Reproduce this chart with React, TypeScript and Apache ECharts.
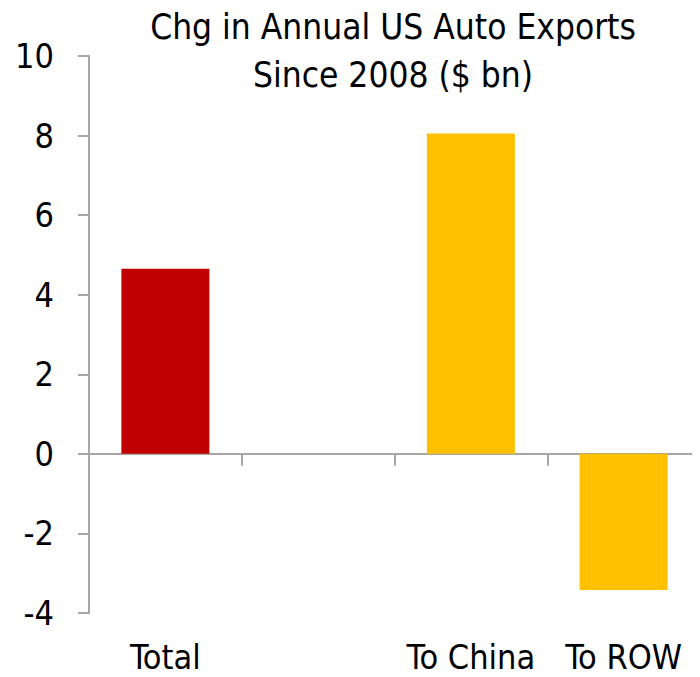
import React, { useEffect, useRef } from "react";
import * as echarts from "echarts";

const categories = ["Total", "", "To China", "To ROW"];
const values = [4.65, null, 8.05, -3.42];
const barColors = ["#C00000", "#C00000", "#FFC000", "#FFC000"];
const yTicks = { min: -4, max: 10, interval: 2 };
const titleLines = ["Chg in Annual US Auto Exports", "Since 2008 ($ bn)"];

const FONT = "'DejaVu Sans Condensed', 'Liberation Sans Narrow', 'DejaVu Sans', sans-serif";

export default function App() {
  const ref = useRef<HTMLDivElement>(null);
  useEffect(() => {
    if (!ref.current) return;
    const chart = echarts.init(ref.current, undefined, { renderer: "svg" });
    const axisColor = "#A6A6A6";
    chart.setOption({
      animation: false,
      title: {
        text: titleLines.join("\n"),
        left: 388,
        top: -2,
        textAlign: "center",
        textStyle: {
          fontFamily: FONT,
          fontSize: 35,
          fontWeight: "normal",
          color: "#000",
          lineHeight: 48,
        },
      },
      grid: { left: 89, top: 56, bottom: 64, width: 618 },
      xAxis: [
        {
          type: "category",
          data: categories,
          axisLine: { onZero: true, lineStyle: { color: axisColor, width: 2 } },
          axisTick: { show: true, length: 12, lineStyle: { color: axisColor, width: 2 } },
          axisLabel: { show: false },
        },
        {
          type: "category",
          data: categories,
          position: "bottom",
          axisLine: { show: false },
          axisTick: { show: false },
          axisLabel: {
            interval: 0,
            hideOverlap: false,
            margin: 27,
            fontFamily: FONT,
            fontSize: 34,
            color: "#000",
          },
        },
      ],
      yAxis: {
        type: "value",
        min: yTicks.min,
        max: yTicks.max,
        interval: yTicks.interval,
        splitLine: { show: false },
        axisLine: { show: true, lineStyle: { color: axisColor, width: 2 } },
        axisTick: { show: true, length: 11, lineStyle: { color: axisColor, width: 2 } },
        axisLabel: {
          margin: 35,
          fontFamily: FONT,
          fontSize: 34,
          color: "#000",
        },
      },
      series: [
        {
          type: "bar",
          xAxisIndex: 0,
          barWidth: 88,
          data: values.map((v, i) => ({ value: v, itemStyle: { color: barColors[i] } })),
        },
      ],
    });
    return () => chart.dispose();
  }, []);
  return <div ref={ref} style={{ width: 700, height: 677, margin: -8 }} />;
}
